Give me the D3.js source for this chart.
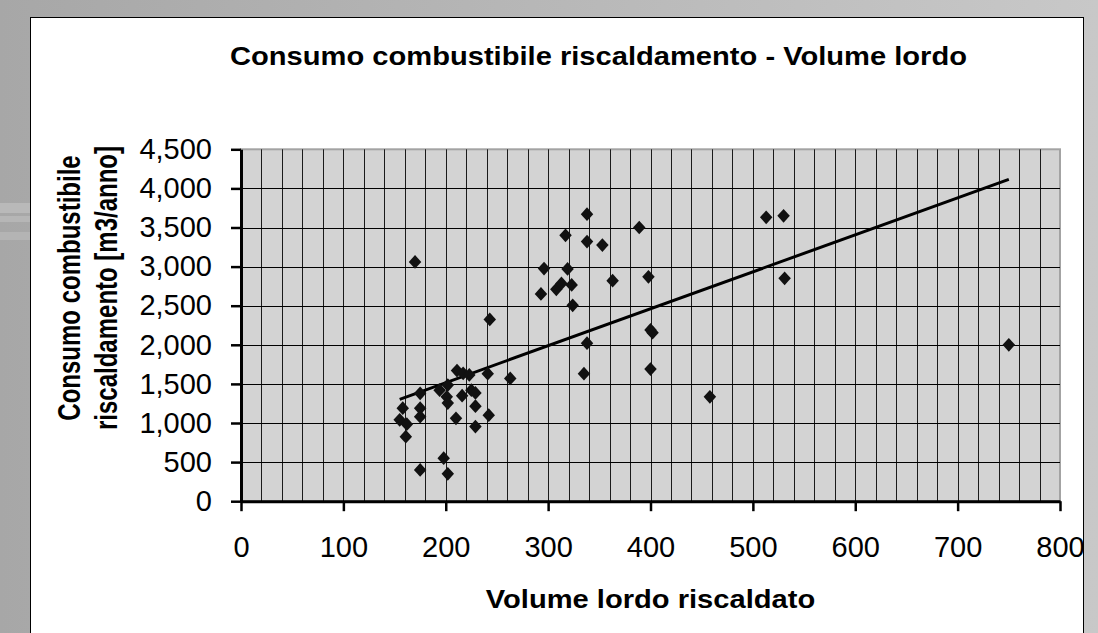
<!DOCTYPE html>
<html>
<head>
<meta charset="utf-8">
<script src="https://cdn.jsdelivr.net/npm/d3@7"></script>
<style>
body { margin: 0; background: #b4b4b4; }
svg { display: block; font-family: "Liberation Sans", Arial, sans-serif; }
</style>
</head>
<body>
<div id="chart"></div>
<script>
// volume lordo riscaldato (m3) / consumo (m3/anno)
var volume  = [155, 158, 162, 161, 175, 175, 175, 175, 170, 194, 202, 201, 202, 198, 202, 210, 211, 217,
               223, 216, 225, 229, 229, 229, 241, 242, 243, 263, 293, 296, 308, 313, 317, 319, 323, 324,
               338, 338, 338, 335, 353, 363, 389, 398, 400, 402, 400, 458, 513, 530, 531, 750];
var consumo = [1040, 1190, 985, 825, 1380, 1190, 1080, 400, 3060, 1420, 1485, 1335, 1255, 550, 350, 1060, 1670, 1635,
               1615, 1350, 1420, 1385, 1215, 955, 1630, 1100, 2325, 1570, 2650, 2975, 2710, 2785, 3400, 2970, 2765, 2505,
               3670, 3320, 2020, 1630, 3275, 2820, 3500, 2870, 2190, 2155, 1690, 1335, 3630, 3650, 2850, 2000];

// linear trend line end points
var trendX = [155, 750];
var trendY = [1303, 4115];

var xTicks = [0, 100, 200, 300, 400, 500, 600, 700, 800];
var yTicks = [0, 500, 1000, 1500, 2000, 2500, 3000, 3500, 4000, 4500];

var titleText = "Consumo combustibile riscaldamento - Volume lordo";
var xTitle = "Volume lordo riscaldato";
var yTitle = ["Consumo combustibile", "riscaldamento [m3/anno]"];

var width = 1098, height = 633;
var plot = {left: 241, right: 1060, top: 149.3, bottom: 501.2};

var svg = d3.select("#chart")
    .append("svg")
    .attr("width", width)
    .attr("height", height)

var defs = svg.append("defs")
var grad = defs.append("linearGradient")
    .attr("id", "bg")
    .attr("x1", "0").attr("y1", "0").attr("x2", "1").attr("y2", "0")
grad.append("stop").attr("offset", "0").attr("stop-color", "#a7a7a7")
grad.append("stop").attr("offset", "1").attr("stop-color", "#c8c8c8")

// slide background
svg.append("rect")
    .attr("width", width).attr("height", height)
    .attr("fill", "url(#bg)")

svg.append("rect").attr("x", 0).attr("y", 203).attr("width", 30).attr("height", 10).attr("fill", "#b9b9b9")
svg.append("rect").attr("x", 0).attr("y", 216).attr("width", 30).attr("height", 6).attr("fill", "#b6b6b6")
svg.append("rect").attr("x", 0).attr("y", 232).attr("width", 30).attr("height", 8).attr("fill", "#b4b4b4")

// white chart panel
svg.append("rect")
    .attr("x", 30.5).attr("y", 17.5)
    .attr("width", 1053).attr("height", 640)
    .attr("fill", "#ffffff")
    .attr("stroke", "#000")
    .attr("stroke-width", 1)

var x = d3.scaleLinear().domain([0, 800]).range([plot.left, plot.right]);
var y = d3.scaleLinear().domain([0, 4500]).range([plot.bottom, plot.top]);

var g = svg.append("g")

// plot area
g.append("rect")
    .attr("x", plot.left).attr("y", plot.top)
    .attr("width", plot.right - plot.left)
    .attr("height", plot.bottom - plot.top)
    .attr("fill", "#d3d3d3")
    .attr("stroke", "#a3a3a3")
    .attr("stroke-width", 2)

// gridlines: every 20 on x, every 500 on y
var xGrid = d3.range(20, 800, 20);
var yGrid = yTicks.filter(function(d){ return d > 0 && d < 4500 });

g.selectAll(".vgrid")
    .data(xGrid).enter().append("line")
        .attr("class", "vgrid")
        .attr("x1", function(d){ return Math.round(x(d)) + 0.5 })
        .attr("x2", function(d){ return Math.round(x(d)) + 0.5 })
        .attr("y1", plot.top).attr("y2", plot.bottom)
        .attr("stroke", "#1a1a1a")
        .attr("stroke-width", 1)

g.selectAll(".hgrid")
    .data(yGrid).enter().append("line")
        .attr("class", "hgrid")
        .attr("x1", plot.left).attr("x2", plot.right)
        .attr("y1", function(d){ return Math.round(y(d)) + 0.5 })
        .attr("y2", function(d){ return Math.round(y(d)) + 0.5 })
        .attr("stroke", "#000")
        .attr("stroke-width", 1)

// axes
var yAxis = d3.axisLeft(y)
    .tickValues(yTicks)
    .tickSize(10)
    .tickSizeOuter(0)
    .tickPadding(19)
    .tickFormat(d3.format(","))

var xAxis = d3.axisBottom(x)
    .tickValues(xTicks)
    .tickSize(10)
    .tickSizeOuter(0)
    .tickPadding(25)

var gy = g.append("g")
    .attr("transform", "translate(" + plot.left + ",0)")
    .call(yAxis)

var gx = g.append("g")
    .attr("transform", "translate(0," + plot.bottom + ")")
    .call(xAxis)

;[gx, gy].forEach(function(ax){
    ax.select(".domain").attr("stroke", "#000").attr("stroke-width", 3)
    ax.selectAll(".tick line").attr("stroke", "#000").attr("stroke-width", 2.5)
    ax.selectAll(".tick text")
        .attr("fill", "#000")
        .style("font-size", "29px")
        .style("font-family", "'Liberation Sans', Arial, sans-serif")
})

// trend line
var line = d3.line()
    .x(function(d){ return x(d[0]) })
    .y(function(d){ return y(d[1]) })

g.append("path")
    .datum(d3.zip(trendX, trendY))
    .attr("d", line)
    .attr("fill", "none")
    .attr("stroke", "#000")
    .attr("stroke-width", 3)

// diamond markers
var diamond = d3.symbol().type(d3.symbolSquare).size(78)

g.selectAll(".pt")
    .data(d3.zip(volume, consumo)).enter().append("path")
        .attr("class", "pt")
        .attr("d", diamond)
        .attr("transform", function(d){
            return "translate(" + x(d[0]) + "," + y(d[1]) + ") scale(1,1.1) rotate(45)"
        })
        .attr("fill", "#111")

// titles (the original is stretched a little sideways)
svg.append("text")
    .attr("transform", "translate(598.5,65) scale(1.12,1)")
    .attr("text-anchor", "middle")
    .style("font-size", "26px")
    .style("font-weight", "bold")
    .text(titleText)

svg.append("text")
    .attr("transform", "translate(" + (plot.left + plot.right) / 2 + ",608) scale(1.12,1)")
    .attr("text-anchor", "middle")
    .style("font-size", "26px")
    .style("font-weight", "bold")
    .text(xTitle)

var yt = svg.append("text")
    .attr("transform", "translate(0,288) rotate(-90) scale(1,1.3)")
    .attr("text-anchor", "middle")
    .style("font-size", "24px")
    .style("font-weight", "bold")

yt.selectAll("tspan")
    .data(yTitle).enter().append("tspan")
        .attr("x", 0)
        .attr("y", function(d, i){ return i === 0 ? 80 / 1.3 : 117 / 1.3 })
        .text(function(d){ return d })
</script>
</body>
</html>
